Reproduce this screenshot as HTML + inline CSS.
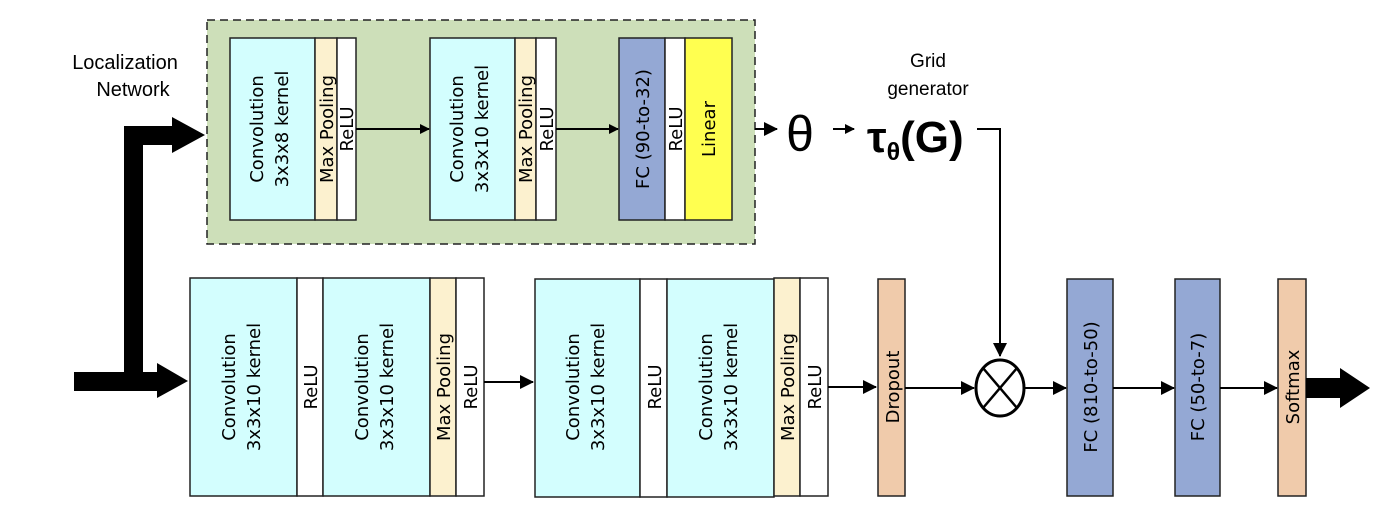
<!DOCTYPE html>
<html><head><style>body{margin:0;background:#fff}svg{display:block}</style></head><body>
<svg width="1390" height="528" viewBox="0 0 1390 528" xmlns="http://www.w3.org/2000/svg">
<defs><marker id="a" markerWidth="10" markerHeight="10" refX="9" refY="5" orient="auto" markerUnits="userSpaceOnUse"><path d="M0,0 L10,5 L0,10z" fill="#000"/></marker>
<marker id="b" markerWidth="14" markerHeight="14" refX="13" refY="7" orient="auto" markerUnits="userSpaceOnUse"><path d="M0,0 L14,7 L0,14z" fill="#000"/></marker></defs>
<rect x="207" y="20" width="548" height="224" fill="#cddfb9" stroke="#222" stroke-width="1.5" stroke-dasharray="8,5"/>
<g stroke="#222" stroke-width="1.5">
<rect x="230" y="38" width="85" height="182" fill="#d3fefe"/><rect x="315" y="38" width="22" height="182" fill="#fcf1cf"/><rect x="337" y="38" width="19" height="182" fill="#fff"/>
<rect x="430" y="38" width="85" height="182" fill="#d3fefe"/><rect x="515" y="38" width="21" height="182" fill="#fcf1cf"/><rect x="536" y="38" width="20" height="182" fill="#fff"/>
<rect x="619" y="38" width="46" height="182" fill="#94a8d4"/><rect x="665" y="38" width="20" height="182" fill="#fff"/><rect x="685" y="38" width="47" height="182" fill="#ffff50"/>
<rect x="190" y="278" width="107" height="218" fill="#d3fefe"/><rect x="297" y="278" width="26" height="218" fill="#fff"/><rect x="323" y="278" width="107" height="218" fill="#d3fefe"/><rect x="430" y="278" width="26" height="218" fill="#fcf1cf"/><rect x="456" y="278" width="28" height="218" fill="#fff"/>
<rect x="535" y="279" width="105" height="218" fill="#d3fefe"/><rect x="640" y="279" width="27" height="218" fill="#fff"/><rect x="667" y="279" width="107" height="218" fill="#d3fefe"/><rect x="774" y="278" width="26" height="218" fill="#fcf1cf"/><rect x="800" y="278" width="28" height="218" fill="#fff"/>
<rect x="878" y="279" width="27" height="217" fill="#f0cbab"/>
<rect x="1067" y="279" width="46" height="217" fill="#94a8d4"/><rect x="1175" y="279" width="45" height="217" fill="#94a8d4"/><rect x="1278" y="279" width="28" height="217" fill="#f0cbab"/>
</g>
<g stroke="#000" stroke-width="2" fill="none">
<line x1="356" y1="129" x2="429" y2="129" marker-end="url(#a)"/>
<line x1="556" y1="129" x2="618" y2="129" marker-end="url(#a)"/>
<line x1="755" y1="129" x2="777" y2="129" marker-end="url(#b)"/>
<line x1="833" y1="129" x2="854" y2="129" marker-end="url(#a)"/>
<polyline points="977,129 1000,129 1000,356" marker-end="url(#b)"/>
<line x1="484" y1="382" x2="533" y2="382" marker-end="url(#b)"/>
<line x1="828" y1="387" x2="876" y2="387" marker-end="url(#b)"/>
<line x1="905" y1="388" x2="974" y2="388" marker-end="url(#b)"/>
<line x1="1025" y1="388" x2="1066" y2="388" marker-end="url(#b)"/>
<line x1="1113" y1="388" x2="1174" y2="388" marker-end="url(#b)"/>
<line x1="1220" y1="388" x2="1277" y2="388" marker-end="url(#b)"/>
<ellipse cx="1000" cy="388" rx="24" ry="28" stroke-width="3"/>
<line x1="983" y1="368" x2="1017" y2="408" stroke-width="2.5"/><line x1="1017" y1="368" x2="983" y2="408" stroke-width="2.5"/>
</g>
<path d="M124,391 V126 H172 V117 L205,135 L172,153 V145 H143 V372 H157 V363 L188,381 L157,398 V391 H74 V372 H124z" fill="#000"/>
<path d="M1306,378 H1340 V368 L1370,388 L1340,408 V398 H1306z" fill="#000"/>
<g font-family="Liberation Sans, sans-serif" fill="#000">
<text x="125" y="69" text-anchor="middle" font-size="20">Localization</text>
<text x="133" y="96" text-anchor="middle" font-size="20">Network</text>
<text x="928" y="67" text-anchor="middle" font-size="19">Grid</text>
<text x="928" y="95" text-anchor="middle" font-size="19">generator</text>
<text x="800" y="151" text-anchor="middle" font-size="50">θ</text>
<text x="867" y="152" font-size="44" font-weight="bold">τ<tspan dy="8" font-size="25">θ</tspan><tspan dy="-8">(G)</tspan></text>
</g>
<g font-family="DejaVu Sans, sans-serif" font-size="18" fill="#000" text-anchor="middle">
<text transform="translate(263,129) rotate(-90)">Convolution</text>
<text transform="translate(288,129) rotate(-90)">3x3x8 kernel</text>
<text transform="translate(333,129) rotate(-90)">Max Pooling</text>
<text transform="translate(353,129) rotate(-90)">ReLU</text>
<text transform="translate(463,129) rotate(-90)">Convolution</text>
<text transform="translate(488,129) rotate(-90)">3x3x10 kernel</text>
<text transform="translate(532,129) rotate(-90)">Max Pooling</text>
<text transform="translate(553,129) rotate(-90)">ReLU</text>
<text transform="translate(649,129) rotate(-90)">FC (90-to-32)</text>
<text transform="translate(682,129) rotate(-90)">ReLU</text>
<text transform="translate(715,129) rotate(-90)">Linear</text>
<text transform="translate(235,387) rotate(-90)">Convolution</text>
<text transform="translate(260,387) rotate(-90)">3x3x10 kernel</text>
<text transform="translate(317,387) rotate(-90)">ReLU</text>
<text transform="translate(368,387) rotate(-90)">Convolution</text>
<text transform="translate(393,387) rotate(-90)">3x3x10 kernel</text>
<text transform="translate(450,387) rotate(-90)">Max Pooling</text>
<text transform="translate(477,387) rotate(-90)">ReLU</text>
<text transform="translate(579,387) rotate(-90)">Convolution</text>
<text transform="translate(604,387) rotate(-90)">3x3x10 kernel</text>
<text transform="translate(661,387) rotate(-90)">ReLU</text>
<text transform="translate(712,387) rotate(-90)">Convolution</text>
<text transform="translate(737,387) rotate(-90)">3x3x10 kernel</text>
<text transform="translate(794,387) rotate(-90)">Max Pooling</text>
<text transform="translate(821,387) rotate(-90)">ReLU</text>
<text transform="translate(899,387) rotate(-90)">Dropout</text>
<text transform="translate(1097,387) rotate(-90)">FC (810-to-50)</text>
<text transform="translate(1204,387) rotate(-90)">FC (50-to-7)</text>
<text transform="translate(1299,387) rotate(-90)">Softmax</text>
</g>
</svg>
</body></html>
